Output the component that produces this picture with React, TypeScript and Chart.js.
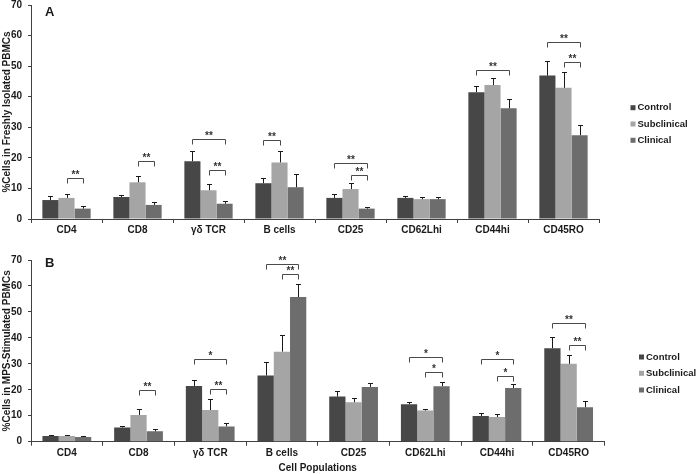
import React, { useEffect, useRef } from "react";
import { Chart, registerables } from "chart.js";
Chart.register(...registerables);

const FONT = '"Liberation Sans", Arial, sans-serif';
Chart.defaults.font.family = FONT;

const categories = ["CD4", "CD8", "γδ TCR", "B cells", "CD25", "CD62Lhi", "CD44hi", "CD45RO"];
const seriesNames = ["Control", "Subclinical", "Clinical"];
const seriesColors = ["#474747", "#a5a5a5", "#6d6d6d"];
const yTicks = [0, 10, 20, 30, 40, 50, 60, 70];

// Panel A: freshly isolated PBMCs
const freshControl = [6.2, 7.2, 18.9, 11.7, 6.9, 6.9, 41.5, 46.9];
const freshControlErr = [1.3, 0.5, 3.2, 1.6, 1.2, 0.7, 1.9, 4.7];
const freshSubclinical = [6.9, 12.0, 9.4, 18.5, 9.8, 6.5, 43.8, 42.9];
const freshSubclinicalErr = [1.2, 2.0, 1.9, 3.9, 1.9, 0.7, 2.3, 5.1];
const freshClinical = [3.4, 4.6, 5.0, 10.4, 3.4, 6.5, 36.2, 27.4];
const freshClinicalErr = [0.7, 1.0, 0.8, 4.2, 0.4, 0.8, 2.9, 3.2];
// [category index, from series, to series, bracket value, label]
const freshBrackets: [number, number, number, number, string][] = [
  [0, 1, 2, 13.3, "**"],
  [1, 1, 2, 19.1, "**"],
  [2, 0, 2, 26.1, "**"],
  [2, 1, 2, 16.1, "**"],
  [3, 0, 1, 25.8, "**"],
  [4, 0, 2, 18.2, "**"],
  [4, 1, 2, 14.3, "**"],
  [6, 0, 2, 48.6, "**"],
  [7, 0, 2, 57.9, "**"],
  [7, 1, 2, 51.3, "**"],
];

// Panel B: MPS-stimulated PBMCs
const mpsControl = [2.2, 5.5, 21.5, 25.5, 17.4, 14.4, 9.9, 36.0];
const mpsControlErr = [0.4, 0.4, 2.4, 5.1, 2.2, 0.9, 1.0, 4.2];
const mpsSubclinical = [2.2, 10.3, 12.2, 34.7, 15.2, 12.0, 9.5, 30.0];
const mpsSubclinicalErr = [0.2, 2.3, 4.1, 6.5, 1.5, 0.5, 1.1, 3.5];
const mpsClinical = [1.8, 4.0, 5.9, 55.7, 21.1, 21.4, 20.7, 13.3];
const mpsClinicalErr = [0.3, 0.9, 1.2, 5.0, 1.7, 1.5, 1.7, 2.5];
const mpsBrackets: [number, number, number, number, string][] = [
  [1, 1, 2, 19.9, "**"],
  [2, 0, 2, 31.8, "*"],
  [2, 1, 2, 20.3, "**"],
  [3, 0, 2, 68.5, "**"],
  [3, 1, 2, 64.7, "**"],
  [5, 0, 2, 32.7, "*"],
  [5, 1, 2, 27.0, "*"],
  [6, 0, 2, 31.8, "*"],
  [6, 1, 2, 25.5, "*"],
  [7, 0, 2, 45.8, "**"],
  [7, 1, 2, 37.3, "**"],
];

type PanelDef = {
  letter: string;
  yTitle: string;
  xTitle: string;
  values: number[][];
  errors: number[][];
  brackets: [number, number, number, number, string][];
  top: number;
  height: number;
  padTop: number;
  padRight: number;
  xHeight: number;
  tickPad: number;
  letterDy: number;
  legendX: number;
  legendY: number[];
};

const panels: PanelDef[] = [
  {
    letter: "A",
    yTitle: "%Cells in Freshly Isolated PBMCs",
    xTitle: "",
    values: [freshControl, freshSubclinical, freshClinical],
    errors: [freshControlErr, freshSubclinicalErr, freshClinicalErr],
    brackets: freshBrackets,
    top: 0,
    height: 240,
    padTop: 5,
    padRight: 97,
    xHeight: 21,
    tickPad: 1,
    letterDy: 11.3,
    legendX: 630.5,
    legendY: [107.7, 124, 140.3],
  },
  {
    letter: "B",
    yTitle: "%Cells in MPS-Stimulated PBMCs",
    xTitle: "Cell Populations",
    values: [mpsControl, mpsSubclinical, mpsClinical],
    errors: [mpsControlErr, mpsSubclinicalErr, mpsClinicalErr],
    brackets: mpsBrackets,
    top: 240,
    height: 234,
    padTop: 20,
    padRight: 91.5,
    xHeight: 32.3,
    tickPad: 2,
    letterDy: 7.2,
    legendX: 639,
    legendY: [117, 133.3, 150],
  },
];

function buildConfig(p: PanelDef): any {
  const decor = {
    id: "decor" + p.letter,
    afterDatasetsDraw(chart: any) {
      const ctx = chart.ctx;
      const ys = chart.scales.y;
      ctx.save();
      // error bars
      ctx.strokeStyle = "#1a1a1a";
      ctx.lineWidth = 1;
      p.values.forEach((vals, si) => {
        const meta = chart.getDatasetMeta(si);
        meta.data.forEach((el: any, ci: number) => {
          const x = Math.round(el.x) + 0.5;
          const yt = Math.round(ys.getPixelForValue(vals[ci] + p.errors[si][ci])) + 0.5;
          ctx.beginPath();
          ctx.moveTo(x, el.y);
          ctx.lineTo(x, yt);
          ctx.moveTo(x - 2.5, yt);
          ctx.lineTo(x + 2.5, yt);
          ctx.stroke();
        });
      });
      // significance brackets
      ctx.strokeStyle = "#4a4a4a";
      ctx.fillStyle = "#333";
      ctx.font = "bold 10px " + FONT;
      ctx.textAlign = "center";
      ctx.textBaseline = "alphabetic";
      p.brackets.forEach(([ci, s1, s2, val, label]) => {
        const x1 = Math.round(chart.getDatasetMeta(s1).data[ci].x) + 0.5;
        const x2 = Math.round(chart.getDatasetMeta(s2).data[ci].x) + 0.5;
        const yy = Math.round(ys.getPixelForValue(val)) + 0.5;
        ctx.beginPath();
        ctx.moveTo(x1, yy + 5);
        ctx.lineTo(x1, yy);
        ctx.lineTo(x2, yy);
        ctx.lineTo(x2, yy + 5);
        ctx.stroke();
        ctx.fillText(label, (x1 + x2) / 2, yy - 1);
      });
      ctx.restore();
    },
    afterDraw(chart: any) {
      const ctx = chart.ctx;
      const area = chart.chartArea;
      ctx.save();
      ctx.fillStyle = "#1a1a1a";
      ctx.font = "bold 13px " + FONT;
      ctx.textAlign = "left";
      ctx.textBaseline = "alphabetic";
      ctx.fillText(p.letter, area.left + 14, area.top + p.letterDy);
      // legend
      ctx.font = "bold 9.5px " + FONT;
      ctx.textBaseline = "middle";
      seriesNames.forEach((name, i) => {
        const ly = p.legendY[i];
        ctx.fillStyle = seriesColors[i];
        ctx.fillRect(p.legendX, ly - 2.5, 5, 5);
        ctx.fillStyle = "#1a1a1a";
        ctx.fillText(name, p.legendX + 7, ly);
      });
      ctx.restore();
    },
  };

  return {
    type: "bar",
    data: {
      labels: categories,
      datasets: p.values.map((v, i) => ({
        label: seriesNames[i],
        data: v,
        backgroundColor: seriesColors[i],
        borderWidth: 0,
        categoryPercentage: 0.68,
        barPercentage: 1,
      })),
    },
    options: {
      animation: false,
      responsive: false,
      maintainAspectRatio: false,
      devicePixelRatio: 1,
      layout: { padding: { left: 0, right: p.padRight, top: p.padTop, bottom: 0 } },
      plugins: { legend: { display: false }, tooltip: { enabled: false } },
      scales: {
        x: {
          grid: {
            display: true,
            drawOnChartArea: false,
            drawTicks: true,
            tickLength: 4,
            color: "#404040",
            offset: true,
          },
          border: { display: true, color: "#404040", width: 1 },
          ticks: {
            font: { size: 10, weight: "bold" },
            color: "#1a1a1a",
            padding: p.tickPad,
            maxRotation: 0,
            autoSkip: false,
          },
          title: {
            display: !!p.xTitle,
            text: p.xTitle,
            font: { size: 10, weight: "bold" },
            color: "#1a1a1a",
            padding: { top: 0, bottom: 0 },
          },
          afterFit: (s: any) => {
            s.height = p.xHeight;
            s.paddingLeft = 0;
            s.paddingRight = 0;
          },
        },
        y: {
          min: 0,
          max: 70,
          afterBuildTicks: (s: any) => {
            s.ticks = yTicks.map((v) => ({ value: v }));
          },
          grid: { display: true, drawOnChartArea: false, drawTicks: true, tickLength: 3, color: "#404040" },
          border: { display: true, color: "#404040", width: 1 },
          ticks: {
            font: { size: 10, weight: "bold" },
            color: "#1a1a1a",
            padding: 6,
          },
          title: {
            display: true,
            text: p.yTitle,
            font: { size: 10, weight: "bold" },
            color: "#1a1a1a",
            padding: { top: 1, bottom: 0 },
          },
          afterFit: (s: any) => {
            s.width = 31;
            s.paddingTop = 0;
            s.paddingBottom = 0;
          },
        },
      },
    },
    plugins: [decor],
  };
}

function Panel({ def }: { def: PanelDef }) {
  const ref = useRef<HTMLCanvasElement>(null);
  useEffect(() => {
    const chart = new Chart(ref.current as HTMLCanvasElement, buildConfig(def));
    return () => chart.destroy();
  }, [def]);
  return (
    <div style={{ position: "absolute", left: 0, top: def.top, width: 696, height: def.height }}>
      <canvas ref={ref} width={696} height={def.height} style={{ display: "block", width: 696, height: def.height }} />
    </div>
  );
}

export default function App() {
  return (
    <div style={{ position: "absolute", left: 0, top: 0, width: 696, height: 474, background: "#fff" }}>
      {panels.map((p) => (
        <Panel key={p.letter} def={p} />
      ))}
    </div>
  );
}
